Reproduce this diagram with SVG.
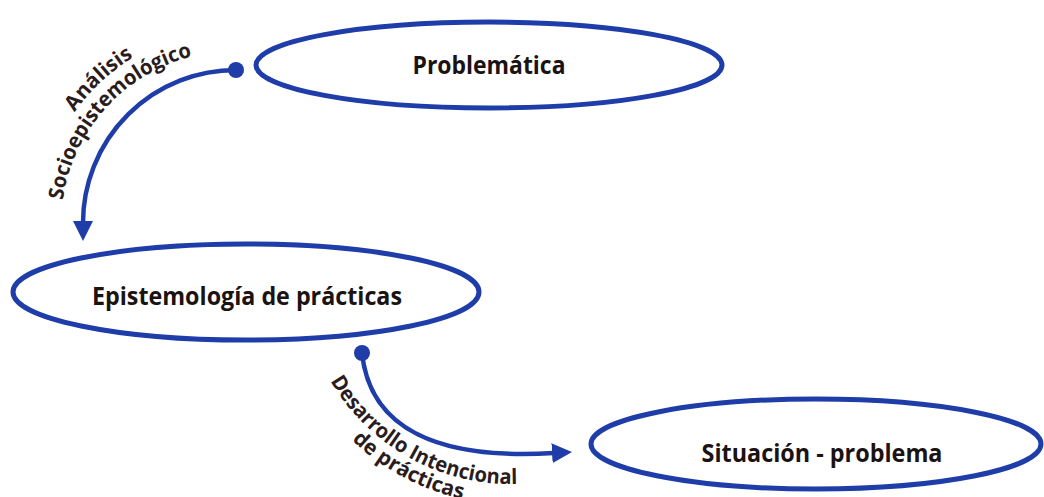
<svg xmlns="http://www.w3.org/2000/svg" xmlns:xlink="http://www.w3.org/1999/xlink" width="1044" height="497" viewBox="0 0 1044 497">
  <style>
    .node { fill: #ffffff; stroke: #1f3da8; stroke-width: 5; }
    .ntext { font-family: "Open Sans", "Liberation Sans", sans-serif; font-weight: 700; font-size: 25px; fill: #1b1212; text-anchor: middle; }
    .conn { fill: none; stroke: #1f3da8; stroke-width: 4.5; }
    .dot { fill: #1f3da8; }
    .ltext { font-family: "Open Sans", "Liberation Sans", sans-serif; font-weight: 700; font-size: 21px; fill: #2a1c1c; }
  </style>
  <defs>
    <marker id="arrow" viewBox="0 0 20 20" markerUnits="userSpaceOnUse" markerWidth="20" markerHeight="20" refX="2" refY="10" orient="auto">
      <path d="M0,0 L20,10 L0,20 z" fill="#1f3da8"/>
    </marker>
    <path id="lp1a" d="M39,225 A196,196 0 0 1 248.7,29.5"/>
    <path id="lp1b" d="M63.6,255.2 A174,174 0 0 1 247.1,51.4"/>
    <path id="lp2a" d="M301,274 A210,210 0 0 0 616,455.9"/>
    <path id="lp2b" d="M281,274 A230,230 0 0 0 639.6,464.7"/>
  </defs>

  <g id="connectors">
    <g id="c1">
      <path class="conn" d="M237,70 A153,153 0 0 0 83,223" marker-end="url(#arrow)"/>
      <circle class="dot" cx="236" cy="70" r="8"/>
      <text class="ltext" text-anchor="middle"><textPath xlink:href="#lp1a" href="#lp1a" startOffset="50%">Análisis</textPath></text>
      <text class="ltext" text-anchor="middle"><textPath xlink:href="#lp1b" href="#lp1b" startOffset="50%" textLength="205" lengthAdjust="spacingAndGlyphs">Socioepistemológico</textPath></text>
    </g>
    <g id="c2">
      <path class="conn" d="M362,353 C370,430 440,460 554,453" marker-end="url(#arrow)"/>
      <circle class="dot" cx="362" cy="353" r="8"/>
      <text class="ltext" text-anchor="middle"><textPath xlink:href="#lp2a" href="#lp2a" startOffset="51%" textLength="224" lengthAdjust="spacingAndGlyphs">Desarrollo Intencional</textPath></text>
      <text class="ltext" text-anchor="middle"><textPath xlink:href="#lp2b" href="#lp2b" startOffset="50%">de prácticas</textPath></text>
    </g>
  </g>

  <g id="problematica">
    <ellipse class="node" cx="489" cy="65" rx="233" ry="43"/>
    <text class="ntext" x="489" y="74" textLength="153" lengthAdjust="spacingAndGlyphs">Problemática</text>
  </g>
  <g id="epistemologia">
    <ellipse class="node" cx="246" cy="292" rx="233" ry="48"/>
    <text class="ntext" x="247" y="305" textLength="310" lengthAdjust="spacingAndGlyphs">Epistemología de prácticas</text>
  </g>
  <g id="situacion">
    <ellipse class="node" cx="816" cy="444" rx="225" ry="45"/>
    <text class="ntext" x="822" y="462" textLength="241" lengthAdjust="spacingAndGlyphs">Situación - problema</text>
  </g>
</svg>
